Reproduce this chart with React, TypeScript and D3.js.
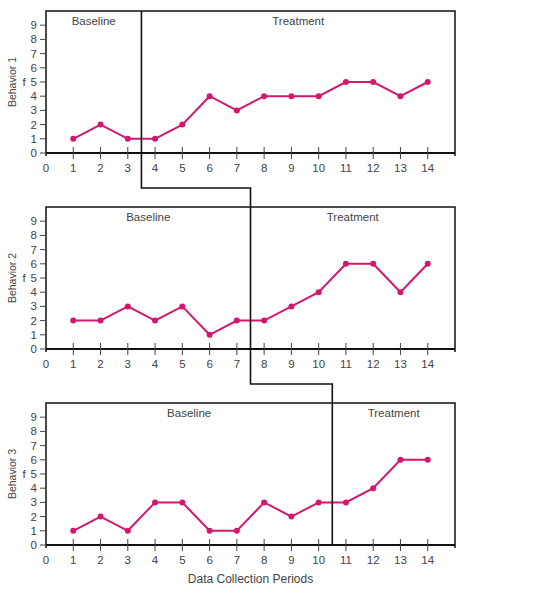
import React from 'react';
import * as d3 from 'd3';

// Multiple-baseline design: three behaviours, staggered intervention
const periods = [1, 2, 3, 4, 5, 6, 7, 8, 9, 10, 11, 12, 13, 14];
const behavior1 = [1, 2, 1, 1, 2, 4, 3, 4, 4, 4, 5, 5, 4, 5];
const behavior2 = [2, 2, 3, 2, 3, 1, 2, 2, 3, 4, 6, 6, 4, 6];
const behavior3 = [1, 2, 1, 3, 3, 1, 1, 3, 2, 3, 3, 4, 6, 6];
const behaviorNames = ['Behavior 1', 'Behavior 2', 'Behavior 3'];
const phaseChanges = [3.5, 7.5, 10.5];
const xTicks = [0, 1, 2, 3, 4, 5, 6, 7, 8, 9, 10, 11, 12, 13, 14];
const yTicks = [0, 1, 2, 3, 4, 5, 6, 7, 8, 9];

const series = [behavior1, behavior2, behavior3];

const W = 541;
const H = 603;
const left = 46;
const right = 455;
const firstTop = 11;
const panelH = 142;
const panelStep = 196;
const dropBelow = 35;
const pink = '#d3176d';
const font = "'Liberation Sans', Arial, sans-serif";

export default function App() {
  const x = d3.scaleLinear().domain([0, 15]).range([left, right]);
  const panels = series.map((vals, i) => {
    const top = firstTop + i * panelStep;
    const base = top + panelH;
    const y = d3.scaleLinear().domain([0, 10]).range([base, top]);
    return { vals, top, base, y, name: behaviorNames[i], cut: phaseChanges[i] };
  });

  // staircase phase-change line running through all three panels
  const stair: [number, number][] = [];
  panels.forEach((p, i) => {
    const xc = x(p.cut);
    const yStart = i === 0 ? p.top : panels[i - 1].base + dropBelow;
    const yEnd = i === panels.length - 1 ? p.base : p.base + dropBelow;
    stair.push([xc, yStart], [xc, yEnd]);
  });
  const stairPath = d3.line()(stair) ?? '';

  return (
    <svg width={W} height={H} style={{ position: 'absolute', left: 0, top: 0, background: '#fff' }}
      fontFamily={font}>
      {panels.map((p, i) => {
        const line = d3.line<number>()
          .x((_, k) => x(periods[k]))
          .y(v => p.y(v));
        return (
          <g key={i}>
            {/* frame: left, top, right; bottom is the x axis */}
            <path d={`M${left},${p.base + 3}V${p.top}H${right}V${p.base + 3}`} fill="none" stroke="#111" strokeWidth={1.5} />
            <line x1={left} x2={right} y1={p.base} y2={p.base} stroke="#111" strokeWidth={2} />
            {xTicks.map(t => (
              <g key={t}>
                {t > 0 && <line x1={x(t)} x2={x(t)} y1={p.base - 6} y2={p.base + 6} stroke="#444" strokeWidth={1} />}
                <text x={x(t)} y={p.base + 19} textAnchor="middle" fontSize={11.5} fill="#444">{t}</text>
              </g>
            ))}
            {yTicks.map(t => (
              <g key={t}>
                <line x1={left - 6} x2={left} y1={p.y(t)} y2={p.y(t)} stroke="#444" strokeWidth={1} />
                <text x={37} y={p.y(t) + 4} textAnchor="end" fontSize={11.5} fill="#444">{t}</text>
              </g>
            ))}
            <text x={24} y={p.y(5) + 4} textAnchor="middle" fontSize={11.5} fill="#444">f</text>
            <text transform={`translate(16,${(p.top + p.base) / 2}) rotate(-90)`} textAnchor="middle"
              fontSize={10.5} fill="#444">{p.name}</text>
            <text x={(left + x(p.cut)) / 2} y={p.top + 14} textAnchor="middle" fontSize={11.5} fill="#444">Baseline</text>
            <text x={(x(p.cut) + right) / 2} y={p.top + 14} textAnchor="middle" fontSize={11.5} fill="#444">Treatment</text>
            <path d={line(p.vals) ?? ''} fill="none" stroke={pink} strokeWidth={2} />
            {p.vals.map((v, k) => (
              <circle key={k} cx={x(periods[k])} cy={p.y(v)} r={3} fill={pink} />
            ))}
          </g>
        );
      })}
      <path d={stairPath} fill="none" stroke="#111" strokeWidth={1.6} />
      <text x={(left + right) / 2} y={583} textAnchor="middle" fontSize={12} fill="#444">Data Collection Periods</text>
    </svg>
  );
}
